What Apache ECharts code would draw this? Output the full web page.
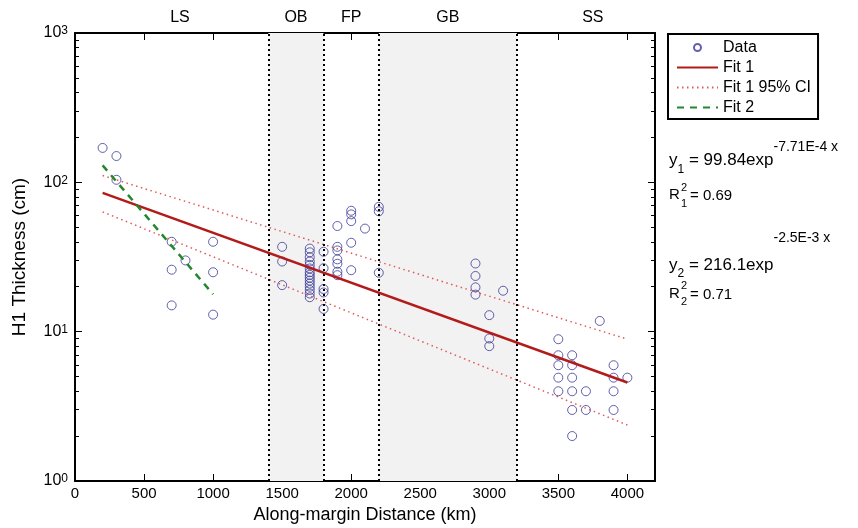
<!DOCTYPE html>
<html><head><meta charset="utf-8">
<script src="https://cdn.jsdelivr.net/npm/echarts@6/dist/echarts.min.js"></script>
<style>html,body{margin:0;padding:0;background:#fff}#c{width:858px;height:528px}</style>
</head><body><div id="c"></div>
<script>
// ---- data ----
const dataKm = [200,300,300,700,700,700,800,1000,1000,1000,
  1500,1500,1500,
  1700,1700,1700,1700,1700,1700,1700,1700,1700,1700,1700,1700,1700,1700,1700,
  1800,1800,1800,1800,1800,
  1900,1900,1900,1900,1900,1900,1900,
  2000,2000,2000,2000,2000,
  2100,
  2200,2200,2200,
  2900,2900,2900,2900,
  3000,3000,3000,
  3100,
  3500,3500,3500,3500,3500,
  3600,3600,3600,3600,3600,3600,
  3700,3700,
  3800,
  3900,3900,3900,3900,
  4000];
const dataCm = [170,150,104,40,26,15,30,40,25,13,
  37,29.5,20.5,
  36,34,31.5,29.5,28,26.5,25,24,23,22,21,20,19,18,17,
  34.3,26.6,19.3,18.3,14.2,
  51,37,35,30.5,28.5,25.2,23.9,
  64.5,61,55,39.4,25.8,
  49,
  68.5,64,24.8,
  28.6,23.6,19.8,17.7,
  12.9,9.0,8.0,
  18.8,
  8.9,6.95,5.96,4.92,3.99,
  6.95,5.96,4.92,3.99,2.99,2.0,
  3.99,2.99,
  11.8,
  5.96,4.92,3.99,2.99,
  4.92];
const fit1Km = [200, 4000];
const fit1Cm = [85, 4.57];
const ciKm = [200, 4000];
const ciUpperCm = [111, 8.9];
const ciLowerCm = [63.4, 2.37];
const fit2Km = [200, 1000];
const fit2Cm = [130, 17.8];
const regionNames = ['LS','OB','FP','GB','SS'];
const regionLabelKm = [760,1600,2000,2700,3750];
const shadedRegions = [[1400,1800],[2200,3200]];
const boundaryKm = [1400,1800,2200,3200];
const xTickValues = [0,500,1000,1500,2000,2500,3000,3500,4000];
const yMajorTicks = [1,10,100,1000];
const yMinorTicks = [2,3,4,5,6,7,8,9,20,30,40,50,60,70,80,90,200,300,400,500,600,700,800,900];

const zip = (a,b) => a.map((v,i)=>[v,b[i]]);
const FONT = 'Liberation Sans, Arial, Helvetica, sans-serif';
const chart = echarts.init(document.getElementById('c'), null, {renderer:'canvas'});

const GRID = {left:75, right:203, top:33, bottom:47};
const gridW = 858 - GRID.left - GRID.right;
const gridH = 528 - GRID.top - GRID.bottom;

const blackLine = {show:true, onZero:false, lineStyle:{color:'#000', width:2}};
const noLine = {show:false, onZero:false};
const noTick = {show:false};
const noLabel = {show:false};
function ticks(len, vals, inside){
  return {show:true, inside:inside, length:len, customValues:vals, lineStyle:{color:'#000', width:1}};
}
function logAxis(pos, extra){
  return Object.assign({type:'log', logBase:10, min:1, max:1000, position:pos,
    axisLine:noLine, axisTick:noTick, axisLabel:noLabel,
    splitLine:{show:false}, minorTick:{show:false}, minorSplitLine:{show:false}}, extra);
}
function valAxis(pos, extra){
  return Object.assign({type:'value', min:0, max:4200, interval:500, position:pos,
    axisLine:noLine, axisTick:noTick, axisLabel:noLabel, splitLine:{show:false}}, extra);
}

const yAxes = [
  logAxis('left', {axisLine:blackLine,
    axisLabel:{show:true, margin:7, fontFamily:FONT, fontSize:16, color:'#000',
      formatter: v => '10{sup|' + Math.round(Math.log10(v)) + '}',
      rich:{sup:{fontSize:12, fontFamily:FONT, color:'#000', verticalAlign:'top', lineHeight:12}}},
    name:'H1 Thickness (cm)', nameLocation:'middle', nameGap:46,
    nameTextStyle:{fontFamily:FONT, fontSize:19, color:'#000'}}),
  logAxis('right', {axisLine:blackLine, axisTick:ticks(7, yMajorTicks, true)}),
  logAxis('right', {axisTick:ticks(4, yMinorTicks, true)}),
  // mirrored onto the left edge (ticks pointing into the plot)
  logAxis('right', {offset:-gridW, axisTick:ticks(7, yMajorTicks, false)}),
  logAxis('right', {offset:-gridW, axisTick:ticks(4, yMinorTicks, false)})
];
const xAxes = [
  valAxis('bottom', {axisLine:blackLine,
    axisLabel:{show:true, margin:5, fontFamily:FONT, fontSize:15, color:'#000',
      formatter: v => (xTickValues.indexOf(v) >= 0 ? String(v) : '')},
    name:'Along-margin Distance (km)', nameLocation:'middle', nameGap:25,
    nameTextStyle:{fontFamily:FONT, fontSize:18, color:'#000'}}),
  valAxis('top', {axisLine:blackLine, axisTick:ticks(7, xTickValues, true)}),
  {type:'value', min:0, max:4200, position:'top',
    axisLine:noLine, axisTick:noTick, splitLine:{show:false},
    axisLabel:{show:true, customValues:regionLabelKm, margin:7, fontFamily:FONT, fontSize:16, color:'#000',
      formatter: v => regionNames[regionLabelKm.indexOf(v)]}},
  // mirrored onto the bottom edge (ticks pointing into the plot)
  valAxis('top', {offset:-gridH, axisTick:ticks(7, xTickValues, false)})
];

const legendNoDot = {opacity:0};
const option = {
  backgroundColor:'#fff',
  animation:false,
  grid:Object.assign({containLabel:false, outerBoundsMode:'none'}, GRID),
  xAxis: xAxes,
  yAxis: yAxes,
  legend:{
    left:668, top:34, orient:'vertical',
    data:[{name:'Data'},{name:'Fit 1', itemStyle:legendNoDot},{name:'Fit 1 95% CI', itemStyle:legendNoDot},{name:'Fit 2', itemStyle:legendNoDot}],
    borderColor:'#000', borderWidth:2, borderRadius:0, backgroundColor:'#fff',
    padding:[5,7,3,8], itemWidth:41, itemHeight:7, itemGap:3,
    textStyle:{fontFamily:FONT, fontSize:16, lineHeight:17, color:'#000'},
    selectedMode:false
  },
  series:[
    {name:'Data', type:'scatter', xAxisIndex:0, yAxisIndex:0, data:zip(dataKm,dataCm),
      symbol:'circle', symbolSize:9,
      itemStyle:{color:'rgba(255,255,255,0)', borderColor:'#3a3a98', borderWidth:1},
      markArea:{silent:true, itemStyle:{color:'#f2f2f2'},
        data: shadedRegions.map(r => [{xAxis:r[0]},{xAxis:r[1]}])},
      markLine:{silent:true, symbol:['none','none'], label:{show:false},
        lineStyle:{color:'#000', type:[2,3], width:2},
        data: boundaryKm.map(v => ({xAxis:v}))},
      z:3},
    {name:'Fit 1 95% CI', type:'line', xAxisIndex:0, yAxisIndex:0, data:zip(ciKm,ciUpperCm), symbol:'none',
      lineStyle:{color:'#e05a5a', width:1.5, type:[1.5,3.5]}, itemStyle:{color:'#e05a5a'}, z:4},
    {name:'Fit 1 95% CI', type:'line', xAxisIndex:0, yAxisIndex:0, data:zip(ciKm,ciLowerCm), symbol:'none',
      lineStyle:{color:'#e05a5a', width:1.5, type:[1.5,3.5]}, itemStyle:{color:'#e05a5a'}, z:4},
    {name:'Fit 1', type:'line', xAxisIndex:0, yAxisIndex:0, data:zip(fit1Km,fit1Cm), symbol:'none',
      lineStyle:{color:'#b31b1b', width:2.5}, itemStyle:{color:'#b31b1b'}, z:5},
    {name:'Fit 2', type:'line', xAxisIndex:0, yAxisIndex:0, data:zip(fit2Km,fit2Cm), symbol:'none',
      lineStyle:{color:'#23882d', width:2.5, type:[7,6]}, itemStyle:{color:'#23882d'}, z:5}
  ],
  graphic:[
    {type:'text', left:669, top:140, style:{
      text:'{m|y}{b|1}{m| = 99.84exp}{s|-7.71E-4 x}',
      rich:{m:{fontFamily:FONT, fontSize:17, lineHeight:60, color:'#000'},
            s:{fontFamily:FONT, fontSize:14, padding:[0,0,26,0], color:'#000'},
            b:{fontFamily:FONT, fontSize:12, padding:[20,0,0,0], color:'#000'}}}},
    {type:'text', left:669, top:231, style:{
      text:'{m|y}{b|2}{m| = 216.1exp}{s|-2.5E-3 x}',
      rich:{m:{fontFamily:FONT, fontSize:17, lineHeight:80, color:'#000'},
            s:{fontFamily:FONT, fontSize:14, padding:[0,0,54,0], color:'#000'},
            b:{fontFamily:FONT, fontSize:12, padding:[18,0,0,0], color:'#000'}}}},
    {type:'text', x:669, y:195, style:{text:'R', font:'15px '+FONT, fill:'#000', verticalAlign:'middle'}},
    {type:'text', x:681, y:188, style:{text:'2', font:'11px '+FONT, fill:'#000', verticalAlign:'middle'}},
    {type:'text', x:681, y:204, style:{text:'1', font:'11px '+FONT, fill:'#000', verticalAlign:'middle'}},
    {type:'text', x:690, y:196, style:{text:'= 0.69', font:'15px '+FONT, fill:'#000', verticalAlign:'middle'}},
    {type:'text', x:669, y:294, style:{text:'R', font:'15px '+FONT, fill:'#000', verticalAlign:'middle'}},
    {type:'text', x:681, y:286, style:{text:'2', font:'11px '+FONT, fill:'#000', verticalAlign:'middle'}},
    {type:'text', x:681, y:302, style:{text:'2', font:'11px '+FONT, fill:'#000', verticalAlign:'middle'}},
    {type:'text', x:690, y:295, style:{text:'= 0.71', font:'15px '+FONT, fill:'#000', verticalAlign:'middle'}}
  ]
};
chart.setOption(option);
</script></body></html>
